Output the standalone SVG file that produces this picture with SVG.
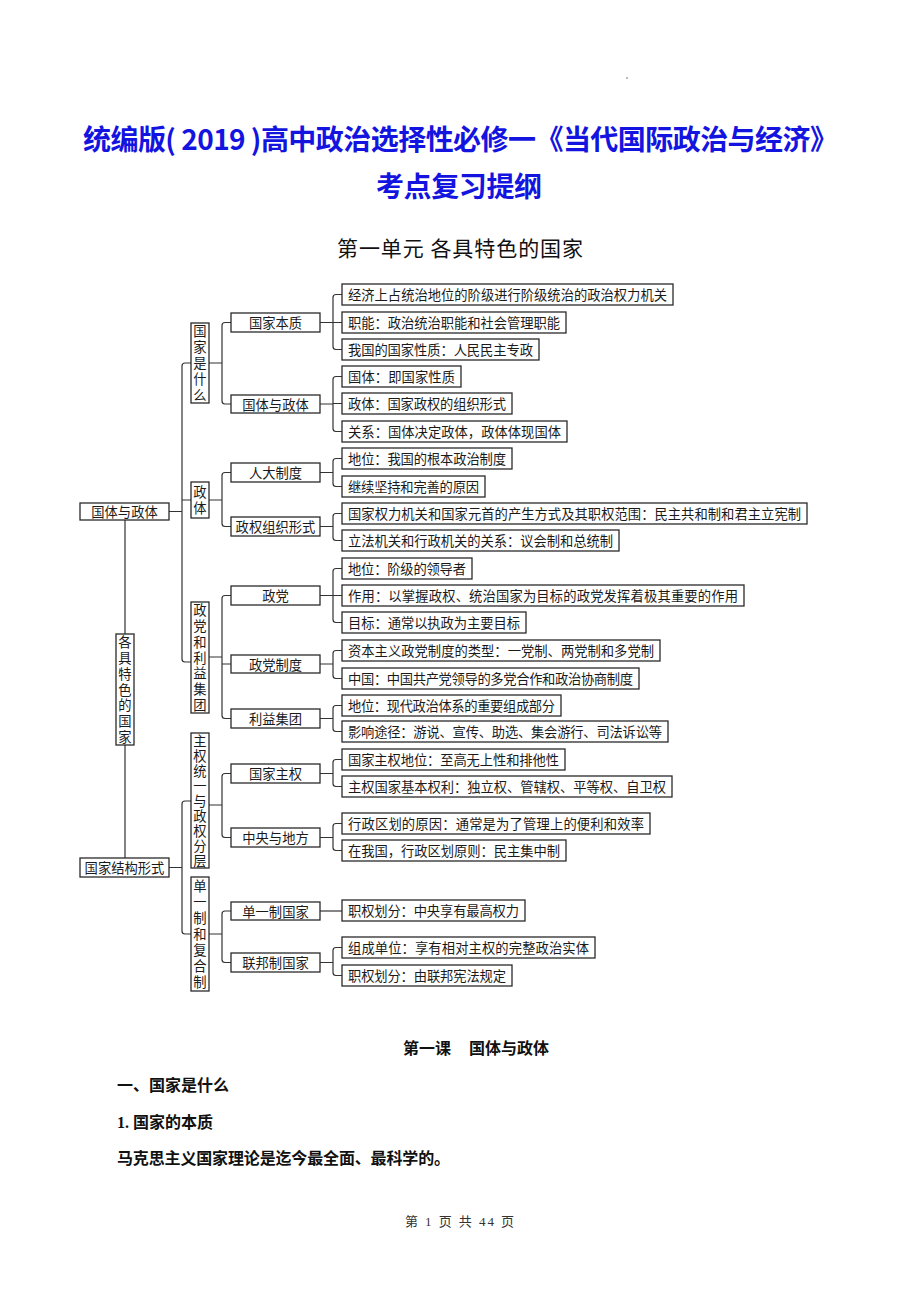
<svg xmlns="http://www.w3.org/2000/svg" width="920" height="1302" viewBox="0 0 920 1302">
<style>
.bg{fill:#ffffff}
.box{fill:#ffffff;stroke:#2a2a2a;stroke-width:1.3}
.conn{fill:none;stroke:#333333;stroke-width:1.2}
.t{font-family:"Noto Sans CJK SC","Liberation Serif",serif;font-size:13.3px;fill:#1a1a1a;dominant-baseline:central}
.c{text-anchor:middle}
.v{font-family:"Noto Sans CJK SC","Liberation Serif",serif;font-size:13.3px;fill:#1a1a1a;writing-mode:vertical-rl}
.title{font-family:"Noto Sans CJK SC","Liberation Sans",sans-serif;font-size:28px;font-weight:700;fill:#1414e0;text-anchor:middle;dominant-baseline:central}
.sub{font-family:"Noto Sans CJK SC","Liberation Serif",serif;font-size:21px;fill:#111;text-anchor:middle;dominant-baseline:central}
.body{font-family:"Liberation Serif","Noto Sans CJK SC",serif;font-size:16px;font-weight:700;fill:#111;dominant-baseline:central}
.foot{font-family:"Liberation Serif","Noto Sans CJK SC",serif;font-size:13px;fill:#333;text-anchor:middle;dominant-baseline:central}
</style>
<rect class="bg" x="0" y="0" width="920" height="1302"/>
<rect x="626" y="77" width="2" height="2" fill="#bbbbbb"/>

<g id="header">
<text class="title" x="460.5" y="138" textLength="755">统编版( 2019 )高中政治选择性必修一《当代国际政治与经济》</text>
<text class="title" x="459" y="185" textLength="166">考点复习提纲</text>
<text class="sub" x="460" y="247" textLength="246">第一单元 各具特色的国家</text>
</g>

<g id="connectors">
<path class="conn" d="M191,363 H185 Q182,363 182,366 V659 Q182,662 185,662 H191 M182,500 H191 M169,511.5 H182"/>
<path class="conn" d="M191,801 H185 Q182,801 182,804 V931 Q182,934 185,934 H191 M169,867.5 H182"/>
<path class="conn" d="M125,520 V634 M125,745 V858"/>
<path class="conn" d="M231,322.5 H225 Q222,322.5 222,325.5 V401 Q222,404 225,404 H231 M209,363 H222"/>
<path class="conn" d="M231,472.5 H225 Q222,472.5 222,475.5 V523.5 Q222,526.5 225,526.5 H231 M209,500 H222"/>
<path class="conn" d="M231,595.5 H225 Q222,595.5 222,598.5 V715.5 Q222,718.5 225,718.5 H231 M222,664 H231 M209,657 H222"/>
<path class="conn" d="M231,773.5 H225 Q222,773.5 222,776.5 V834.5 Q222,837.5 225,837.5 H231 M209,805 H222"/>
<path class="conn" d="M231,911 H225 Q222,911 222,914 V959.5 Q222,962.5 225,962.5 H231 M209,934 H222"/>
<path class="conn" d="M342,294.5 H336 Q333,294.5 333,297.5 V346.5 Q333,349.5 336,349.5 H342 M333,322.5 H342 M320,322.5 H333"/>
<path class="conn" d="M342,376.5 H336 Q333,376.5 333,379.5 V428.5 Q333,431.5 336,431.5 H342 M333,403.5 H342 M320,404 H333"/>
<path class="conn" d="M342,458.5 H336 Q333,458.5 333,461.5 V483.5 Q333,486.5 336,486.5 H342 M320,472.5 H333"/>
<path class="conn" d="M342,513.5 H336 Q333,513.5 333,516.5 V537.5 Q333,540.5 336,540.5 H342 M320,526.5 H333"/>
<path class="conn" d="M342,568.5 H336 Q333,568.5 333,571.5 V619.5 Q333,622.5 336,622.5 H342 M320,595.5 H342"/>
<path class="conn" d="M342,650.5 H336 Q333,650.5 333,653.5 V675.5 Q333,678.5 336,678.5 H342 M320,664 H333"/>
<path class="conn" d="M342,705.5 H336 Q333,705.5 333,708.5 V728.5 Q333,731.5 336,731.5 H342 M320,718.5 H333"/>
<path class="conn" d="M342,759.5 H336 Q333,759.5 333,762.5 V783.5 Q333,786.5 336,786.5 H342 M320,773.5 H333"/>
<path class="conn" d="M342,823.5 H336 Q333,823.5 333,826.5 V847.5 Q333,850.5 336,850.5 H342 M320,837.5 H333"/>
<path class="conn" d="M320,911 H342"/>
<path class="conn" d="M342,947.5 H336 Q333,947.5 333,950.5 V972.5 Q333,975.5 336,975.5 H342 M320,962.5 H333"/>
</g>

<g id="root-guotiyuzhengti"><rect class="box" x="80" y="503" width="89" height="17"/><text class="t c" x="124.5" y="511.5">国体与政体</text></g>
<g id="root-gejutese"><rect class="box" x="116" y="634" width="18" height="111"/><text class="v" x="125" y="635.5" textLength="108">各具特色的国家</text></g>
<g id="root-guojiajiegou"><rect class="box" x="80" y="858" width="89" height="19"/><text class="t c" x="124.5" y="867.5">国家结构形式</text></g>

<g id="l1-guojiashishenme"><rect class="box" x="191" y="323" width="18" height="80"/><text class="v" x="200" y="324.4" textLength="77.3">国家是什么</text></g>
<g id="l1-zhengti"><rect class="box" x="191" y="482" width="18" height="36"/><text class="v" x="200" y="485.4" textLength="29.3">政体</text></g>
<g id="l1-zhengdang"><rect class="box" x="191" y="602" width="18" height="111"/><text class="v" x="200" y="603.5" textLength="108">政党和利益集团</text></g>
<g id="l1-zhuquan"><rect class="box" x="191" y="733" width="18" height="135"/><text class="v" x="200" y="733.9" textLength="133.3">主权统一与政权分层</text></g>
<g id="l1-danyizhi"><rect class="box" x="191" y="877" width="18" height="114"/><text class="v" x="200" y="879.4" textLength="109.3">单一制和复合制</text></g>

<g id="l2-guojiabenzhi"><rect class="box" x="231" y="313" width="89" height="19"/><text class="t c" x="275.5" y="322.5">国家本质</text></g>
<g id="l2-guotiyuzhengti"><rect class="box" x="231" y="395" width="89" height="18"/><text class="t c" x="275.5" y="404">国体与政体</text></g>
<g id="l2-rendazhidu"><rect class="box" x="231" y="463" width="89" height="19"/><text class="t c" x="275.5" y="472.5">人大制度</text></g>
<g id="l2-zhengquanzuzhi"><rect class="box" x="231" y="517" width="89" height="19"/><text class="t c" x="275.5" y="526.5">政权组织形式</text></g>
<g id="l2-zhengdang"><rect class="box" x="231" y="586" width="89" height="19"/><text class="t c" x="275.5" y="595.5">政党</text></g>
<g id="l2-zhengdangzhidu"><rect class="box" x="231" y="655" width="89" height="18"/><text class="t c" x="275.5" y="664">政党制度</text></g>
<g id="l2-liyijituan"><rect class="box" x="231" y="709" width="89" height="19"/><text class="t c" x="275.5" y="718.5">利益集团</text></g>
<g id="l2-guojiazhuquan"><rect class="box" x="231" y="764" width="89" height="19"/><text class="t c" x="275.5" y="773.5">国家主权</text></g>
<g id="l2-zhongyang"><rect class="box" x="231" y="828" width="89" height="19"/><text class="t c" x="275.5" y="837.5">中央与地方</text></g>
<g id="l2-danyizhiguojia"><rect class="box" x="231" y="902" width="89" height="18"/><text class="t c" x="275.5" y="911">单一制国家</text></g>
<g id="l2-lianbang"><rect class="box" x="231" y="953" width="89" height="19"/><text class="t c" x="275.5" y="962.5">联邦制国家</text></g>

<g id="l3-01"><rect class="box" x="342" y="284" width="331" height="21"/><text class="t" x="348" y="294.5" textLength="319">经济上占统治地位的阶级进行阶级统治的政治权力机关</text></g>
<g id="l3-02"><rect class="box" x="342" y="312" width="224" height="21"/><text class="t" x="348" y="322.5" textLength="212">职能：政治统治职能和社会管理职能</text></g>
<g id="l3-03"><rect class="box" x="342" y="339" width="197" height="21"/><text class="t" x="348" y="349.5" textLength="185">我国的国家性质：人民民主专政</text></g>
<g id="l3-04"><rect class="box" x="342" y="366" width="119" height="21"/><text class="t" x="348" y="376.5" textLength="107">国体：即国家性质</text></g>
<g id="l3-05"><rect class="box" x="342" y="393" width="170" height="21"/><text class="t" x="348" y="403.5" textLength="158">政体：国家政权的组织形式</text></g>
<g id="l3-06"><rect class="box" x="342" y="421" width="225" height="21"/><text class="t" x="348" y="431.5" textLength="213">关系：国体决定政体，政体体现国体</text></g>
<g id="l3-07"><rect class="box" x="342" y="448" width="170" height="21"/><text class="t" x="348" y="458.5" textLength="158">地位：我国的根本政治制度</text></g>
<g id="l3-08"><rect class="box" x="342" y="476" width="143" height="21"/><text class="t" x="348" y="486.5" textLength="131">继续坚持和完善的原因</text></g>
<g id="l3-09"><rect class="box" x="342" y="503" width="465" height="21"/><text class="t" x="348" y="513.5" textLength="453">国家权力机关和国家元首的产生方式及其职权范围：民主共和制和君主立宪制</text></g>
<g id="l3-10"><rect class="box" x="342" y="530" width="277" height="21"/><text class="t" x="348" y="540.5" textLength="265">立法机关和行政机关的关系：议会制和总统制</text></g>
<g id="l3-11"><rect class="box" x="342" y="558" width="130" height="21"/><text class="t" x="348" y="568.5" textLength="118">地位：阶级的领导者</text></g>
<g id="l3-12"><rect class="box" x="342" y="585" width="402" height="21"/><text class="t" x="348" y="595.5" textLength="390">作用：以掌握政权、统治国家为目标的政党发挥着极其重要的作用</text></g>
<g id="l3-13"><rect class="box" x="342" y="612" width="184" height="21"/><text class="t" x="348" y="622.5" textLength="172">目标：通常以执政为主要目标</text></g>
<g id="l3-14"><rect class="box" x="342" y="640" width="318" height="21"/><text class="t" x="348" y="650.5" textLength="306">资本主义政党制度的类型：一党制、两党制和多党制</text></g>
<g id="l3-15"><rect class="box" x="342" y="668" width="297" height="21"/><text class="t" x="348" y="678.5" textLength="285">中国：中国共产党领导的多党合作和政治协商制度</text></g>
<g id="l3-16"><rect class="box" x="342" y="695" width="219" height="21"/><text class="t" x="348" y="705.5" textLength="207">地位：现代政治体系的重要组成部分</text></g>
<g id="l3-17"><rect class="box" x="342" y="721" width="326" height="21"/><text class="t" x="348" y="731.5" textLength="314">影响途径：游说、宣传、助选、集会游行、司法诉讼等</text></g>
<g id="l3-18"><rect class="box" x="342" y="749" width="223" height="21"/><text class="t" x="348" y="759.5" textLength="211">国家主权地位：至高无上性和排他性</text></g>
<g id="l3-19"><rect class="box" x="342" y="776" width="330" height="21"/><text class="t" x="348" y="786.5" textLength="318">主权国家基本权利：独立权、管辖权、平等权、自卫权</text></g>
<g id="l3-20"><rect class="box" x="342" y="813" width="308" height="21"/><text class="t" x="348" y="823.5" textLength="296">行政区划的原因：通常是为了管理上的便利和效率</text></g>
<g id="l3-21"><rect class="box" x="342" y="840" width="224" height="21"/><text class="t" x="348" y="850.5" textLength="212">在我国，行政区划原则：民主集中制</text></g>
<g id="l3-22"><rect class="box" x="342" y="900" width="183" height="21"/><text class="t" x="348" y="910.5" textLength="171">职权划分：中央享有最高权力</text></g>
<g id="l3-23"><rect class="box" x="342" y="937" width="253" height="21"/><text class="t" x="348" y="947.5" textLength="241">组成单位：享有相对主权的完整政治实体</text></g>
<g id="l3-24"><rect class="box" x="342" y="965" width="170" height="21"/><text class="t" x="348" y="975.5" textLength="158">职权划分：由联邦宪法规定</text></g>

<g id="body">
<text class="body" x="403" y="1048">第一课</text>
<text class="body" x="469" y="1048">国体与政体</text>
<text class="body" x="117" y="1085">一、国家是什么</text>
<text class="body" x="117" y="1122">1. 国家的本质</text>
<text class="body" x="117" y="1158" textLength="333">马克思主义国家理论是迄今最全面、最科学的。</text>
<text class="foot" x="459.5" y="1221" textLength="109">第 1 页 共 44 页</text>
</g>
</svg>
